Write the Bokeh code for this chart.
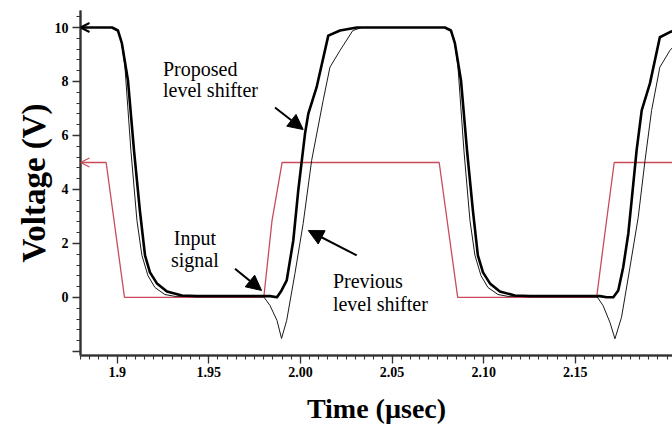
import numpy as np
from bokeh.plotting import figure
from bokeh.models import LinearAxis, FixedTicker, Range1d, Arrow, NormalHead, OpenHead
from bokeh.core.properties import value
from bokeh.embed import file_html
from bokeh.resources import INLINE

# ---------------- data (time in usec, voltage in V) ----------------
t_input = [1.880, 1.894, 1.904, 1.980, 1.9845, 1.990, 2.0757, 2.0858, 2.1616, 2.1661, 2.1712, 2.205]
v_input = [5.0, 5.0, 0.0, 0.0, 2.85, 5.0, 5.0, 0.0, 0.0, 2.37, 5.0, 5.0]

t_proposed = [1.880, 1.8972, 1.9004, 1.9026, 1.9059, 1.9092, 1.9124, 1.9152, 1.9179, 1.9217,
              1.9272, 1.9353, 1.9435, 1.9834, 1.9872, 1.9897, 1.9925, 1.9961, 1.9988, 2.0025,
              2.0043, 2.0088, 2.0152, 2.0216, 2.0308, 2.0788, 2.0821, 2.0843, 2.0876, 2.0909,
              2.0941, 2.0968, 2.0996, 2.1034, 2.1088, 2.1170, 2.1252, 2.1634, 2.1671, 2.1707,
              2.1734, 2.1761, 2.1789, 2.1807, 2.1834, 2.1862, 2.1907, 2.1961, 2.2016, 2.2050]
v_proposed = [10.0, 10.0, 9.89, 9.41, 8.04, 5.44, 3.22, 1.56, 0.93, 0.52,
              0.22, 0.07, 0.05, 0.05, 0.01, 0.26, 0.63, 2.11, 3.96, 6.07,
              6.81, 7.78, 9.70, 9.89, 10.0, 10.0, 9.89, 9.41, 8.04, 5.44,
              3.22, 1.56, 0.93, 0.52, 0.22, 0.07, 0.05, 0.05, 0.01, 0.01,
              0.26, 1.12, 2.37, 3.59, 5.44, 6.93, 7.93, 9.64, 9.83, 9.90]

t_previous = [1.880, 1.8972, 1.8999, 1.9021, 1.9042, 1.9075, 1.9108, 1.9135, 1.9168, 1.9206,
              1.9260, 1.9315, 1.9797, 1.9834, 1.9872, 1.9897, 1.9925, 1.9970, 2.0015, 2.0061,
              2.0124, 2.0161, 2.0216, 2.0286, 2.0336, 2.0788, 2.0816, 2.0838, 2.0859, 2.0892,
              2.0925, 2.0952, 2.0985, 2.1023, 2.1078, 2.1132, 2.1616, 2.1651, 2.1689, 2.1716,
              2.1752, 2.1798, 2.1843, 2.1880, 2.1916, 2.1961, 2.2016, 2.2050]
v_previous = [10.0, 10.0, 9.93, 9.59, 8.59, 5.44, 2.85, 1.56, 0.81, 0.37,
              0.11, 0.04, 0.05, -0.30, -0.85, -1.52, -0.85, 0.89, 2.74, 5.07,
              7.30, 8.53, 9.15, 9.89, 10.0, 10.0, 9.93, 9.59, 8.59, 5.44,
              2.85, 1.56, 0.81, 0.37, 0.11, 0.04, 0.05, -0.30, -0.93, -1.53,
              -0.73, 1.12, 2.97, 5.07, 6.93, 8.53, 9.15, 9.40]

x_major = [1.9, 1.95, 2.0, 2.05, 2.1, 2.15]
x_labels = ["1.9", "1.95", "2.00", "2.05", "2.10", "2.15"]
y_major = [-2, 0, 2, 4, 6, 8, 10]
y_labels = ["", "0", "2", "4", "6", "8", "10"]

x_label = "Time (\u00b5sec)"
y_label = "Voltage (V)"

# annotation texts: (text, x, y)
notes_left = [("Proposed", 1.9250, 8.46), ("level shifter", 1.9250, 7.68),
              ("Previous", 2.0177, 0.60), ("level shifter", 2.0177, -0.25)]
notes_center = [("Input", 1.9424, 2.19), ("signal", 1.9424, 1.37)]
# annotation arrows: (x_start, y_start, x_end, y_end)
note_arrows = [(1.9861, 7.04, 2.0015, 6.22),
               (1.9643, 1.06, 1.9788, 0.26),
               (2.0307, 1.56, 2.0043, 2.48)]

RED = "#c94a5a"
SERIF = "Liberation Serif"

p = figure(width=672, height=428, output_backend="svg", toolbar_location=None,
           x_range=Range1d(1.88, 2.203), y_range=Range1d(-2.15, 10.63),
           x_axis_location=None, y_axis_location=None,
           min_border_left=80, min_border_right=0, min_border_top=10, min_border_bottom=73,
           background_fill_color="white", border_fill_color="white")
p.outline_line_color = None
p.grid.visible = False


def frame_axis(tick_out):
    return LinearAxis(ticker=FixedTicker(ticks=[], minor_ticks=[]),
                      axis_line_color="#5a5a5a", axis_line_width=2.5,
                      major_tick_out=tick_out, major_tick_in=0,
                      minor_tick_out=0, minor_tick_in=0,
                      major_tick_line_color=None, minor_tick_line_color=None,
                      major_label_standoff=0, axis_label=None)


def style_axis(ax, label_size, standoff, tick_standoff):
    ax.axis_line_color = "#333333"
    ax.axis_line_width = 1.5
    ax.major_tick_line_color = "#333333"
    ax.minor_tick_line_color = "#333333"
    ax.major_tick_line_width = 1.3
    ax.minor_tick_line_width = 1.1
    ax.major_tick_in = 0
    ax.minor_tick_in = 0
    ax.major_tick_out = 8
    ax.minor_tick_out = 4
    ax.major_label_text_font = SERIF
    ax.major_label_text_font_style = "bold"
    ax.major_label_text_font_size = "14px"
    ax.major_label_text_color = "black"
    ax.major_label_standoff = tick_standoff
    ax.axis_label_text_font = SERIF
    ax.axis_label_text_font_style = "bold"
    ax.axis_label_text_font_size = label_size
    ax.axis_label_text_color = "black"
    ax.axis_label_standoff = standoff


p.add_layout(frame_axis(5), "left")
p.add_layout(frame_axis(6), "below")

yax = LinearAxis(ticker=FixedTicker(ticks=y_major,
                                    minor_ticks=np.round(np.arange(-2.0, 10.41, 0.4), 2).tolist()),
                 axis_label=y_label)
yax.major_label_overrides = {v: s for v, s in zip(y_major, y_labels)}
style_axis(yax, "33px", 0, 4)
p.add_layout(yax, "left")

xax = LinearAxis(ticker=FixedTicker(ticks=x_major,
                                    minor_ticks=np.round(np.arange(1.88, 2.2031, 0.005), 4).tolist()),
                 axis_label=x_label)
xax.major_label_overrides = {v: s for v, s in zip(x_major, x_labels)}
style_axis(xax, "28px", 13, 3)
p.add_layout(xax, "below")

# curves
p.line(t_input, v_input, line_color=RED, line_width=1.3)
p.line(t_previous, v_previous, line_color="#1a1a1a", line_width=1.0)
p.line(t_proposed, v_proposed, line_color="black", line_width=2.6, line_join="round")

# open arrowheads at left edge
p.add_layout(Arrow(end=OpenHead(size=9, line_color="black", line_width=2),
                   x_start=t_proposed[1], y_start=v_proposed[1],
                   x_end=t_proposed[0], y_end=v_proposed[0], line_alpha=0))
p.add_layout(Arrow(end=OpenHead(size=9, line_color=RED, line_width=1.2),
                   x_start=t_input[1], y_start=v_input[1],
                   x_end=t_input[0], y_end=v_input[0], line_alpha=0))

# annotation arrows
for xs, ys, xe, ye in note_arrows:
    p.add_layout(Arrow(end=NormalHead(size=15, fill_color="black", line_color="black", line_width=1),
                       x_start=xs, y_start=ys, x_end=xe, y_end=ye,
                       line_color="black", line_width=2))

p.text(x=[n[1] for n in notes_left], y=[n[2] for n in notes_left], text=[n[0] for n in notes_left],
       text_font=value(SERIF), text_font_size="20px", text_color="black",
       text_align="left", text_baseline="alphabetic")
p.text(x=[n[1] for n in notes_center], y=[n[2] for n in notes_center], text=[n[0] for n in notes_center],
       text_font=value(SERIF), text_font_size="20px", text_color="black",
       text_align="center", text_baseline="alphabetic")

open("out.html", "w").write(file_html(p, INLINE))
